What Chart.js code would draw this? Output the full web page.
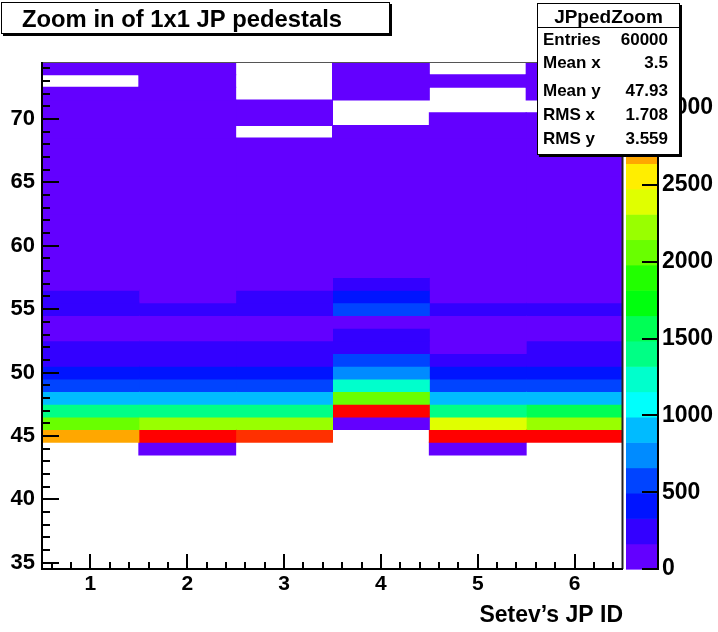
<!DOCTYPE html>
<html>
<head>
<meta charset="utf-8">
<script src="https://cdn.jsdelivr.net/npm/chart.js@4.4.1/dist/chart.umd.min.js"></script>
<style>
    html, body { margin: 0; padding: 0; background: #fff; }
    #wrap { width: 718px; height: 632px; }
</style>
</head>
<body>
<div id="wrap"><canvas id="jpPedZoom" width="718" height="632"></canvas></div>
<script>
(function () {
    'use strict';

    // Setev's JP ID (x bins)
    const jpIds = [1, 2, 3, 4, 5, 6];

    // pedestal ADC bins (y), bin centres 35 .. 74
    const yBins = [35, 36, 37, 38, 39, 40, 41, 42, 43, 44,
                   45, 46, 47, 48, 49, 50, 51, 52, 53, 54,
                   55, 56, 57, 58, 59, 60, 61, 62, 63, 64,
                   65, 66, 67, 68, 69, 70, 71, 72, 73, 74];

    // counts per y bin, one list per JP
    const countsJP1 = [0, 0, 0, 0, 0, 0, 0, 0, 0, 0,
                       2750, 2100, 1420, 900, 570, 400, 260, 240, 150, 140,
                       210, 180, 110, 90, 70, 60, 50, 45, 40, 35,
                       30, 25, 20, 18, 15, 12, 10, 8, 0, 5];
    const countsJP2 = [0, 0, 0, 0, 0, 0, 0, 0, 0, 120,
                       3300, 2200, 1380, 880, 560, 390, 240, 220, 140, 130,
                       190, 150, 100, 80, 65, 55, 45, 40, 35, 30,
                       25, 22, 20, 17, 15, 12, 10, 8, 6, 5];
    const countsJP3 = [0, 0, 0, 0, 0, 0, 0, 0, 0, 0,
                       3050, 2200, 1400, 890, 560, 380, 250, 230, 140, 130,
                       200, 190, 110, 80, 65, 55, 45, 40, 35, 30,
                       25, 20, 15, 12, 0, 6, 4, 0, 0, 0];
    const countsJP4 = [0, 0, 0, 0, 0, 0, 0, 0, 0, 0,
                       0, 120, 3250, 2050, 1250, 760, 570, 260, 230, 150,
                       560, 420, 200, 70, 55, 45, 40, 30, 25, 20,
                       18, 15, 12, 10, 8, 0, 0, 5, 4, 3];
    const countsJP5 = [0, 0, 0, 0, 0, 0, 0, 0, 0, 110,
                       3200, 2400, 1430, 880, 550, 370, 230, 150, 140, 130,
                       190, 140, 100, 75, 60, 50, 42, 36, 30, 25,
                       20, 16, 13, 10, 8, 6, 0, 0, 4, 0];
    const countsJP6 = [0, 0, 0, 0, 0, 0, 0, 0, 0, 0,
                       3180, 2250, 1560, 870, 540, 360, 220, 200, 140, 130,
                       180, 140, 100, 70, 58, 48, 40, 34, 28, 23,
                       19, 15, 12, 10, 8, 6, 0, 5, 4, 3];

    const yTicks = [35, 40, 45, 50, 55, 60, 65, 70];
    const zTicks = [0, 500, 1000, 1500, 2000, 2500, 3000];

    const histTitle = 'Zoom in of 1x1 JP pedestals';
    const xTitle = 'Setev\u2019s JP ID';
    const statsName = 'JPpedZoom';
    const statsLabels = ['Entries', 'Mean x', 'Mean y', 'RMS x', 'RMS y'];
    const statsValues = ['60000', '3.5', '47.93', '1.708', '3.559'];

    const FONT = "'Liberation Sans', Arial, Helvetica, sans-serif";
    const N_LEVELS = 20;

    const allCounts = [countsJP1, countsJP2, countsJP3, countsJP4, countsJP5, countsJP6];
    const zMax = Math.max.apply(null, allCounts.map((c) => Math.max.apply(null, c)));
    const dz = zMax / N_LEVELS;

    // ROOT "pretty" palette (50 colours, hue 280 -> 0), 20 contour levels
    function levelColor(i) {
        const k = Math.floor((i + 0.99) * 50 / N_LEVELS);
        if (k >= 49) return 'rgb(255,0,0)';
        const hue = 280 - (k + 1) * 5.6;
        return 'hsl(' + hue.toFixed(1) + ',100%,50%)';
    }

    function colorFor(v) {
        return levelColor(Math.min(N_LEVELS - 1, Math.floor(v / dz)));
    }

    const datasets = jpIds.map((id, i) => {
        const pts = [];
        yBins.forEach((b, j) => {
            const v = allCounts[i][j];
            if (v > 0) pts.push({ x: id, y: [b - 0.5, b + 0.5], v: v });
        });
        return {
            label: 'JP ' + id,
            data: pts,
            backgroundColor: pts.map((p) => colorFor(p.v)),
            borderWidth: 0,
            borderSkipped: false,
            inflateAmount: 0.5,
            grouped: false,
            barPercentage: 1,
            categoryPercentage: 1,
        };
    });

    const frameTicks = {
        id: 'frameTicks',
        afterDatasetsDraw(chart) {
            const { ctx, chartArea: a, scales: { x, y } } = chart;
            ctx.save();
            ctx.lineWidth = 1;
            ctx.strokeStyle = '#555';
            ctx.beginPath();
            ctx.moveTo(a.left, a.top + 0.5);
            ctx.lineTo(a.right, a.top + 0.5);
            ctx.stroke();
            ctx.lineWidth = 2;
            ctx.strokeStyle = '#222';
            ctx.beginPath();
            ctx.moveTo(a.right - 0.5, a.top);
            ctx.lineTo(a.right - 0.5, a.bottom);
            ctx.stroke();

            ctx.strokeStyle = '#000';
            ctx.beginPath();
            ctx.moveTo(a.left, a.top);
            ctx.lineTo(a.left, a.bottom);
            ctx.lineTo(a.right, a.bottom);
            ctx.stroke();

            ctx.beginPath();
            for (let v = 35; v <= 74; v++) {
                const py = Math.round(y.getPixelForValue(v));
                ctx.moveTo(a.left, py);
                ctx.lineTo(a.left + (v % 5 === 0 ? 17 : 8), py);
            }
            for (let k = 3; k <= 32; k++) {
                const px = Math.round(x.getPixelForValue(k / 5));
                ctx.moveTo(px, a.bottom);
                ctx.lineTo(px, a.bottom - (k % 5 === 0 ? 15 : 7));
            }
            ctx.stroke();
            ctx.restore();
        },
    };

    const colorBarAndBoxes = {
        id: 'colorBarAndBoxes',
        afterDraw(chart) {
            const { ctx, chartArea: a, scales: { z } } = chart;
            const left = a.right + 3;
            const right = a.right + 35;
            ctx.save();
            for (let i = 0; i < N_LEVELS; i++) {
                const y0 = z.getPixelForValue(i * dz);
                const y1 = z.getPixelForValue((i + 1) * dz);
                ctx.fillStyle = levelColor(i);
                ctx.fillRect(left, y1, right - left, y0 - y1 + 0.6);
            }
            ctx.strokeStyle = '#000';
            ctx.lineWidth = 2;
            ctx.beginPath();
            ctx.moveTo(right, a.top);
            ctx.lineTo(right, a.bottom + 1);
            zTicks.forEach((v) => {
                const py = Math.round(z.getPixelForValue(v));
                ctx.moveTo(right, py);
                ctx.lineTo(right - 16, py);
            });
            ctx.stroke();

            // title box
            ctx.fillStyle = '#000';
            ctx.fillRect(3, 4, 389, 32);
            ctx.fillStyle = '#fff';
            ctx.fillRect(1, 2, 389, 32);
            ctx.lineWidth = 1;
            ctx.strokeRect(1.5, 2.5, 388, 31);
            ctx.fillStyle = '#000';
            ctx.font = 'bold 23.8px ' + FONT;
            ctx.textBaseline = 'alphabetic';
            ctx.textAlign = 'left';
            ctx.fillText(histTitle, 22, 27);

            // stats box
            const bx = 537, by = 3, bw = 143, bh = 152;
            ctx.fillStyle = '#000';
            ctx.fillRect(bx + 2, by + 2, bw, bh);
            ctx.fillStyle = '#fff';
            ctx.fillRect(bx, by, bw, bh);
            ctx.strokeStyle = '#000';
            ctx.strokeRect(bx + 0.5, by + 0.5, bw - 1, bh - 1);
            ctx.beginPath();
            ctx.moveTo(bx, 27.5);
            ctx.lineTo(bx + bw, 27.5);
            ctx.stroke();
            ctx.fillStyle = '#000';
            ctx.font = 'bold 19px ' + FONT;
            ctx.textAlign = 'center';
            ctx.fillText(statsName, bx + bw / 2, 23);
            ctx.font = 'bold 17px ' + FONT;
            const rowsY = [45, 68, 96, 120, 144];
            statsLabels.forEach((lab, i) => {
                ctx.textAlign = 'left';
                ctx.fillText(lab, bx + 6, rowsY[i]);
                ctx.textAlign = 'right';
                ctx.fillText(statsValues[i], bx + 131, rowsY[i]);
            });
            ctx.restore();
        },
    };

    const whiteBg = {
        id: 'whiteBg',
        beforeDraw(chart) {
            const { ctx, width, height } = chart;
            ctx.save();
            ctx.fillStyle = '#fff';
            ctx.fillRect(0, 0, width, height);
            ctx.restore();
        },
    };

    const tickFont = (size) => ({ family: FONT, size: size, weight: 'bold' });

    new Chart(document.getElementById('jpPedZoom'), {
        type: 'bar',
        data: { datasets: datasets },
        options: {
            responsive: false,
            animation: false,
            devicePixelRatio: 1,
            layout: { padding: { top: 62, left: 0, right: 0, bottom: 0 } },
            plugins: {
                legend: { display: false },
                tooltip: { enabled: false },
                title: { display: false },
            },
            scales: {
                x: {
                    type: 'linear',
                    min: 0.5,
                    max: 6.5,
                    offset: false,
                    bounds: 'data',
                    grid: { display: false, drawTicks: false, offset: false },
                    border: { display: false },
                    afterBuildTicks: (s) => { s.ticks = jpIds.map((v) => ({ value: v })); },
                    afterFit: (s) => { s.height = 63; },
                    ticks: {
                        color: '#000',
                        font: tickFont(21),
                        padding: 3,
                        maxRotation: 0,
                        autoSkip: false,
                        callback: (v) => String(v),
                    },
                    title: {
                        display: true,
                        text: xTitle,
                        align: 'end',
                        color: '#000',
                        font: tickFont(23),
                        padding: { top: 0, bottom: 3 },
                    },
                },
                y: {
                    type: 'linear',
                    min: 34.5,
                    max: 74.5,
                    bounds: 'data',
                    grid: { display: false, drawTicks: false },
                    border: { display: false },
                    afterBuildTicks: (s) => { s.ticks = yTicks.map((v) => ({ value: v })); },
                    afterFit: (s) => { s.width = 42; },
                    ticks: {
                        color: '#000',
                        font: tickFont(22),
                        padding: 7,
                        autoSkip: false,
                        callback: (v) => String(v),
                    },
                },
                z: {
                    type: 'linear',
                    position: 'right',
                    min: 0,
                    max: zMax,
                    bounds: 'data',
                    grid: { display: false, drawTicks: false },
                    border: { display: false },
                    afterBuildTicks: (s) => { s.ticks = zTicks.map((v) => ({ value: v })); },
                    afterFit: (s) => { s.width = 95; },
                    ticks: {
                        color: '#000',
                        font: tickFont(23),
                        padding: 39,
                        autoSkip: false,
                        callback: (v) => String(v),
                    },
                },
            },
        },
        plugins: [whiteBg, frameTicks, colorBarAndBoxes],
    });
})();
</script>
</body>
</html>
